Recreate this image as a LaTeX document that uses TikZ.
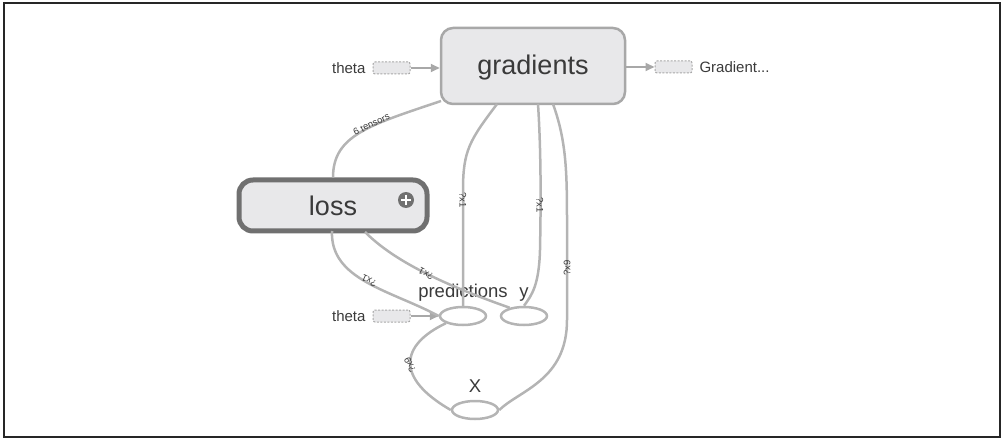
\documentclass[tikz,border=0pt]{standalone}
\usepackage{fontspec}
\setmainfont{Liberation Sans}
\usetikzlibrary{calc,arrows.meta,shapes.geometric}
\definecolor{edgegray}{HTML}{B4B4B4}
\definecolor{boxfill}{HTML}{E8E8EA}
\definecolor{boxline}{HTML}{A8A8A8}
\definecolor{lossline}{HTML}{707070}
\definecolor{txt}{HTML}{3A3A3A}
\tikzset{
  fsz/.style={font=\fontsize{#1}{#1}\selectfont},
  opbox/.style={draw=boxline, line width=2.5pt, fill=boxfill, rounded corners=12pt, inner sep=0pt, text=txt},
  lossbox/.style={draw=lossline, line width=5pt, fill=boxfill, rounded corners=14pt, inner sep=0pt, text=txt},
  tensor/.style={ellipse, draw=edgegray, line width=2.5pt, fill=white, minimum width=46pt, minimum height=18pt, inner sep=0pt},
  stub/.style={draw=boxline, dashed, dash pattern=on 2pt off 1.5pt, line width=1pt, fill=boxfill, rounded corners=2pt, minimum width=37pt, minimum height=12pt, inner sep=0pt},
  lbl/.style={text=txt, fsz=15},
  conn/.style={draw=edgegray, line width=2.5pt},
  inarrow/.style={draw=boxline, line width=2pt, -{Triangle[length=9pt,width=8pt]}},
  elbl/.style={text=txt, fsz=9.5, inner sep=0.5pt},
}
\begin{document}
\begin{tikzpicture}[x=1pt,y=-1pt]
\useasboundingbox (0,0) rectangle (1005,441);
\draw[line width=1.2pt, black!85] (4,3) rectangle (1000,437);

% operation nodes
\node[opbox, minimum width=184pt, minimum height=76pt, fsz=27] (grad) at (533,66) {\raisebox{-9pt}[0pt][0pt]{gradients}};
\node[lossbox, minimum width=188pt, minimum height=51pt, fsz=27] (loss) at (333,205.5) {loss};
\node[circle, fill=lossline, minimum size=16pt, inner sep=0pt] (plus) at (406,200) {};
\draw[white, line width=2.2pt] ($(plus)+(-5,0)$) -- ($(plus)+(5,0)$) ($(plus)+(0,-5)$) -- ($(plus)+(0,5)$);

% tensors
\node[tensor] (pred) at (463,316) {};
\node[tensor] (yy) at (524,316) {};
\node[tensor] (xx) at (475,410) {};
\node[fsz=18.5, text=txt, anchor=base] (predl) at (463,297) {predictions};
\node[fsz=18.5, text=txt, anchor=base] (yl) at (524,297) {y};
\node[fsz=18.5, text=txt, anchor=base] (xl) at (475,392) {X};

% stubs
\node[stub] (th1) at (391.5,68) {};
\node[lbl, anchor=east] (th1l) at (369,68) {theta};
\node[stub] (gout) at (673.5,67) {};
\node[lbl, anchor=west] (goutl) at (696,67) {Gradient...};
\node[stub] (th2) at (391.5,316) {};
\node[lbl, anchor=east] (th2l) at (369,316) {theta};

\draw[inarrow] (th1.east) -- (grad.west |- th1.east);
\draw[inarrow] (grad.east |- gout.west) -- (gout.west);
\draw[inarrow] (th2.east) -- (pred.west);

% connectors
\coordinate (g1) at (441,101);
\coordinate (g2) at (497,104);
\coordinate (g3) at (538,104);
\coordinate (g4) at (553,104);
\coordinate (l1) at (332,231);
\coordinate (l2) at (365,232);

\draw[conn] (loss.north) .. controls (333,135) and (370,125) .. (g1)
  node[elbl, pos=0.6, sloped, above=-3pt] {6 tensors};
\draw[conn] (g2) .. controls (470,140) and (463,150) .. (463,190) -- (pred.north);
\node[elbl, rotate=-90] (lab2) at (463,200) {?x1};
\draw[conn] (g3) .. controls (541,150) and (541,200) .. (540,250) .. controls (539,285) and (532,295) .. (yy.north);
\node[elbl, rotate=-90] (lab3) at (540,205) {?x1};
\draw[conn] (g4) .. controls (566,140) and (567,170) .. (567,220) -- (567,320) .. controls (567,380) and (520,390) .. (xx.east);
\node[elbl, rotate=90] (lab4) at (567,268) {?x9};
\draw[conn] (l1) .. controls (330,280) and (390,290) .. (pred.west);
\node[elbl, rotate=155] (lab5) at (369,281) {?x1};
\draw[conn] (l2) .. controls (395,262) and (445,285) .. (yy.150);
\node[elbl, rotate=152] (lab6) at (426,274) {?x1};
\draw[conn] (pred.south west) .. controls (400,345) and (395,378) .. (xx.west);
\node[elbl, rotate=115] (lab7) at (410,365) {?x9};
\end{tikzpicture}
\end{document}
